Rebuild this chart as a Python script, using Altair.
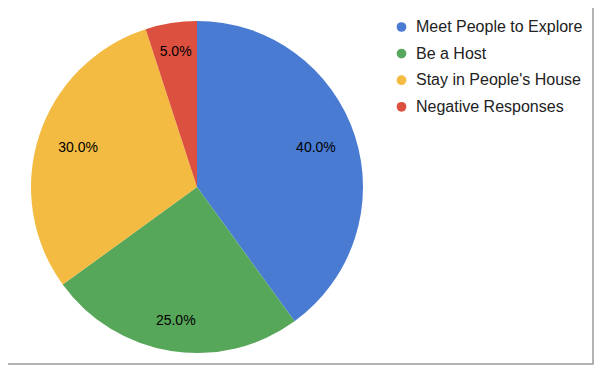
import altair as alt
import pandas as pd

categories = ["Meet People to Explore", "Be a Host", "Stay in People's House", "Negative Responses"]
values = [40, 25, 30, 5]
colors = ["#4a7bd3", "#57a75b", "#f3bb42", "#dc5040"]

total = sum(values)
df = pd.DataFrame({
    "category": categories,
    "value": values,
    "idx": list(range(len(categories))),
    "label": [f"{v / total * 100:.1f}%" for v in values],
})

color = alt.Color(
    "category:N",
    scale=alt.Scale(domain=categories, range=colors),
    sort=categories,
    legend=alt.Legend(
        title=None,
        orient="none",
        legendX=385.5,
        legendY=11,
        padding=0,
        symbolType="circle",
        symbolSize=95,
        symbolStrokeWidth=0,
        symbolOpacity=1,
        labelFont="Liberation Sans",
        labelFontSize=16,
        labelColor="#222222",
        labelOffset=6.5,
        labelLimit=400,
        rowPadding=10.6,
    ),
)

pie = alt.Chart(df).mark_arc(radius=166).encode(
    theta=alt.Theta("value:Q", stack=True),
    order=alt.Order("idx:Q"),
    color=color,
)

# Label placement like Google Charts: the label box is kept inside a circle
labels = (
    alt.Chart(df)
    .transform_joinaggregate(tot="sum(value)")
    .transform_window(cum="sum(value)", sort=[alt.SortField("idx")], frame=[None, 0])
    .transform_calculate(
        mid="(datum.cum - datum.value / 2) / datum.tot * 2 * PI",
        lw="length(datum.label) * 7.9",
    )
    .transform_calculate(
        r="146 - (datum.lw / 2 * abs(sin(datum.mid)) + 7 * abs(cos(datum.mid)))"
    )
    .mark_text(
        font="Liberation Sans",
        fontSize=14,
        color="#000000",
        align="center",
        baseline="middle",
    )
    .encode(
        text="label:N",
        theta=alt.Theta("mid:Q", scale=None),
        radius=alt.Radius("r:Q", scale=None),
    )
)

frame = alt.Chart(pd.DataFrame({"a": [0]})).mark_rect(
    filled=False, stroke="#9a9a9a", strokeWidth=1.5
).encode(
    x=alt.value(-4), x2=alt.value(585), y=alt.value(-4), y2=alt.value(356)
)

chart = alt.layer(pie, labels, frame).resolve_scale(
    theta="independent", radius="independent"
).properties(
    width=378,
    height=358,
    padding={"left": 0, "top": 0, "right": 208, "bottom": 0},
    autosize=alt.AutoSizeParams(type="none"),
).configure_view(stroke=None)

chart.save("out.html", embed_options={"renderer": "svg", "actions": False})
